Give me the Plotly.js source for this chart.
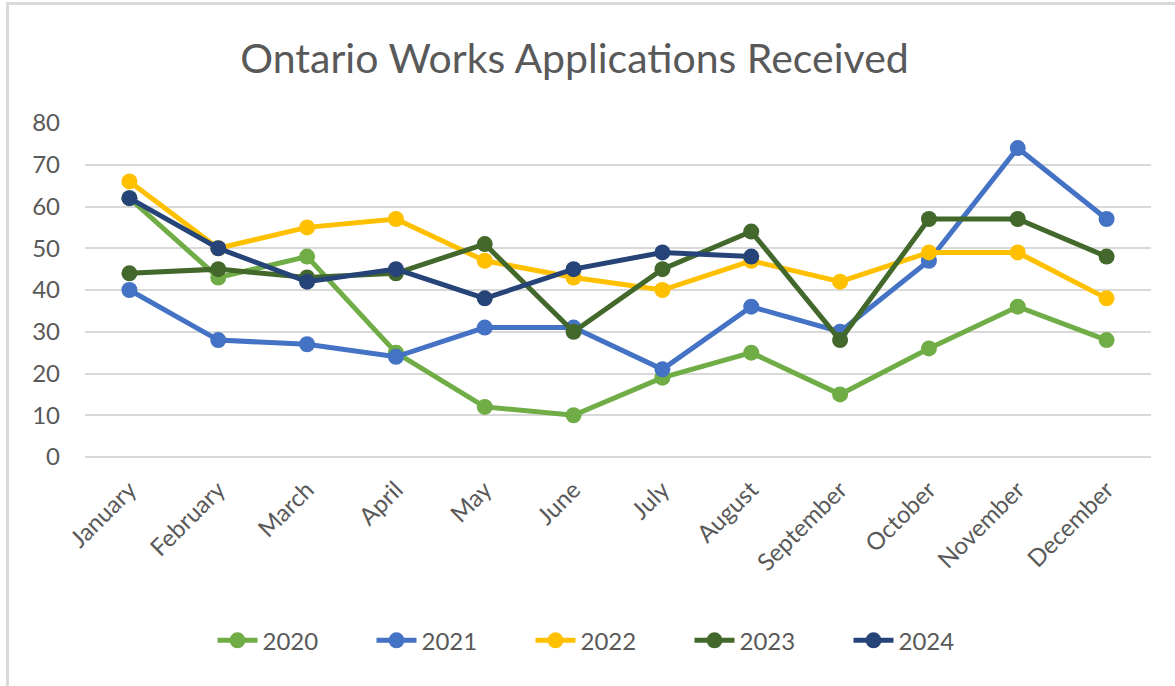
<!DOCTYPE html>
<html>
<head>
<meta charset="utf-8">
<script src="https://cdn.plot.ly/plotly-3.0.1.min.js"></script>
<style>
  html, body { margin: 0; padding: 0; background: #fff; }
  #chart { width: 1175px; height: 686px; position: absolute; left: 0; top: 0; }
  #frame { position: absolute; left: 6px; top: 2px; width: 1300px; height: 800px;
           border-left: 3px solid #d9d9d9; border-top: 3px solid #d9d9d9; pointer-events: none; }
</style>
</head>
<body>
<div id="chart"></div>
<div id="frame"></div>
<script>
const months = ["January","February","March","April","May","June","July","August","September","October","November","December"];
const y2020 = [62, 43, 48, 25, 12, 10, 19, 25, 15, 26, 36, 28];
const y2021 = [40, 28, 27, 24, 31, 31, 21, 36, 30, 47, 74, 57];
const y2022 = [66, 50, 55, 57, 47, 43, 40, 47, 42, 49, 49, 38];
const y2023 = [44, 45, 43, 44, 51, 30, 45, 54, 28, 57, 57, 48];
const y2024 = [62, 50, 42, 45, 38, 45, 49, 48];
const seriesNames = ["2020","2021","2022","2023","2024"];
const seriesValues = [y2020, y2021, y2022, y2023, y2024];
const colors = ["#70AD47","#4472C4","#FFC000","#43682B","#264478"];

const font = "Lato, 'Open Sans', 'DejaVu Sans', sans-serif";
const traces = seriesNames.map((n, i) => ({
  type: "scatter",
  mode: "lines+markers",
  name: n,
  x: months.slice(0, seriesValues[i].length),
  y: seriesValues[i],
  line: { color: colors[i], width: 5 },
  marker: { color: colors[i], size: 16 },
  hoverinfo: "x+y+name"
}));

const layout = {
  width: 1175, height: 686,
  paper_bgcolor: "#ffffff", plot_bgcolor: "#ffffff",
  margin: { l: 85, r: 24, t: 123, b: 229 },
  font: { family: font, color: "#595959" },
  title: {
    text: "Ontario Works Applications Received",
    font: { family: font, size: 41, color: "#595959" },
    x: 0.489, xanchor: "center", xref: "container",
    y: 0.915, yanchor: "middle", yref: "container"
  },
  xaxis: {
    type: "category",
    categoryorder: "array", categoryarray: months,
    range: [-0.5, 11.5],
    showgrid: false, zeroline: false, showline: false,
    tickangle: -45,
    tickfont: { family: font, size: 24, color: "#595959" },
    ticks: "", ticklabelstandoff: 13
  },
  yaxis: {
    range: [0, 80], dtick: 10, tick0: 0,
    showgrid: true, gridcolor: "#d9d9d9", gridwidth: 2,
    zeroline: true, zerolinecolor: "#d9d9d9", zerolinewidth: 2,
    showline: false, ticks: "",
    tickfont: { family: font, size: 24, color: "#595959" },
    ticklabelstandoff: 24
  },
  showlegend: true,
  legend: {
    orientation: "h",
    x: 0.4925, xanchor: "center",
    y: -0.55, yanchor: "middle",
    font: { family: font, size: 24, color: "#595959" },
    itemwidth: 40,
    entrywidth: 104,
    traceorder: "normal"
  }
};

Plotly.newPlot("chart", traces, layout, { displayModeBar: false, staticPlot: true });
</script>
</body>
</html>
